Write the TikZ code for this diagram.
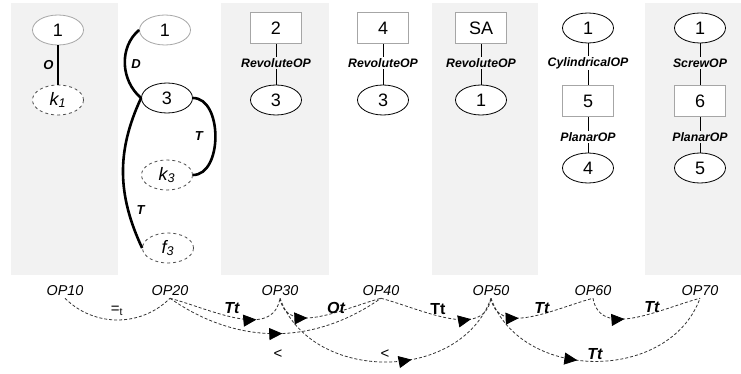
\documentclass[tikz,border=0pt]{standalone}
\usepackage{fontspec}
\setmainfont{Liberation Sans}
\usetikzlibrary{shapes.geometric,arrows.meta,decorations.markings}
\definecolor{panelgray}{HTML}{F2F2F2}
\definecolor{linegray}{HTML}{A6A6A6}
\tikzset{
  oval/.style={ellipse,draw,fill=white,line width=0.8pt,minimum width=51pt,minimum height=30pt,inner sep=0pt,font=\fontsize{18}{18}\selectfont},
  greyoval/.style={oval,draw=linegray},
  virt/.style={oval,draw=black!70,dashed,font=\fontsize{18}{18}\selectfont\itshape},
  part/.style={rectangle,draw=linegray,fill=white,line width=0.8pt,minimum width=51pt,minimum height=31pt,inner sep=0pt,font=\fontsize{18}{18}\selectfont},
  joint/.style={font=\fontsize{12.3}{12}\selectfont\bfseries\itshape,inner sep=1.5pt},
  edgelabel/.style={font=\fontsize{13}{13}\selectfont\bfseries\itshape},
  tie/.style={line width=2.6pt},
  bar/.style={line width=0.9pt},
  oplabel/.style={font=\fontsize{14.3}{14}\selectfont\itshape,inner sep=2pt},
  rel/.style={line width=0.8pt,draw=black!80,dash pattern=on 3pt off 2pt},
  headat/.style={postaction={decorate,decoration={markings,mark=at position #1 with {\arrow[black]{Triangle[length=13pt,width=12pt]}}}}},
  rellabel/.style={font=\fontsize{16}{16}\selectfont\bfseries\itshape},
  cmplabel/.style={font=\fontsize{15}{15}\selectfont},
}
\begin{document}
\begin{tikzpicture}[x=1pt,y=1pt]
  \useasboundingbox (0,0) rectangle (741,-374);
  \fill[panelgray] (11,-3) rectangle (118,-275);
  \fill[panelgray] (221,-3) rectangle (329,-275);
  \fill[panelgray] (432,-3) rectangle (538,-275);
  \fill[panelgray] (645,-3) rectangle (741,-275);

  \node[greyoval] (a1) at (58,-30) {1};
  \node[virt] (ak) at (58,-100) {k\textsubscript{1}};
  \draw[tie] (a1) -- node[edgelabel,left] {O} (ak);

  \node[greyoval] (b1) at (165,-30) {1};
  \node[oval] (b3) at (167,-98) {3};
  \node[virt] (bk) at (167,-175) {k\textsubscript{3}};
  \node[virt] (bf) at (168,-248) {f\textsubscript{3}};
  \draw[tie] (b1.west) to[out=-140,in=140] node[edgelabel,right=2pt] {D} (b3.west);
  \draw[tie] (b3.east) to[out=0,in=0] node[edgelabel,left=8pt] {T} (bk.east);
  \draw[tie] (b3.west) to[out=-115,in=115] node[edgelabel,pos=0.75,right=4pt] {T} (bf.west);

  \node[part] (c2) at (276,-28) {2};
  \node[joint] (cj) at (276,-63) {RevoluteOP};
  \node[oval] (c3) at (276,-100) {3};
  \draw[bar] (c2) -- (cj) -- (c3);

  \node[part] (d4) at (383,-28) {4};
  \node[joint] (dj) at (383,-63) {RevoluteOP};
  \node[oval] (d3) at (383,-100) {3};
  \draw[bar] (d4) -- (dj) -- (d3);

  \node[part] (esa) at (481,-28) {SA};
  \node[joint] (ej) at (481,-63) {RevoluteOP};
  \node[oval] (e1) at (481,-100) {1};
  \draw[bar] (esa) -- (ej) -- (e1);

  \node[oval] (f1) at (588,-28) {1};
  \node[joint] (fj) at (588,-63) {CylindricalOP};
  \node[part] (f5) at (588,-101) {5};
  \node[joint] (fp) at (588,-137) {PlanarOP};
  \node[oval] (f4) at (588,-168) {4};
  \draw[bar] (f1) -- (fj) -- (f5) -- (fp) -- (f4);

  \node[oval] (g1) at (700,-28) {1};
  \node[joint] (gj) at (700,-63) {ScrewOP};
  \node[part] (g6) at (700,-101) {6};
  \node[joint] (gp) at (700,-137) {PlanarOP};
  \node[oval] (g5) at (700,-168) {5};
  \draw[bar] (g1) -- (gj) -- (g6) -- (gp) -- (g5);

  \node[oplabel] (op10) at (65,-291) {OP10};
  \node[oplabel] (op20) at (170,-291) {OP20};
  \node[oplabel] (op30) at (280,-291) {OP30};
  \node[oplabel] (op40) at (381,-291) {OP40};
  \node[oplabel] (op50) at (491,-291) {OP50};
  \node[oplabel] (op60) at (593,-291) {OP60};
  \node[oplabel] (op70) at (700,-291) {OP70};

  \draw[rel] (op10.south) to[out=-45,in=-135] (op20.south);
  \draw[rel,headat=0.72] (op20.south) to[out=-15,in=-100] (op30.south);
  \draw[rel,headat=0.33] (op30.south) to[out=-80,in=-165] (op40.south);
  \draw[rel,headat=0.75] (op40.south) to[out=-15,in=-100] (op50.south);
  \draw[rel,headat=0.33] (op50.south) to[out=-80,in=-165] (op60.south);
  \draw[rel,headat=0.35] (op60.south) to[out=-80,in=-165] (op70.south);
  \draw[rel,headat=0.53] (op20.south) to[out=-35,in=-145] (op40.south);
  \draw[rel,headat=0.6] (op30.south) to[out=-70,in=-110,looseness=1.1] (op50.south);
  \draw[rel,headat=0.43] (op50.south) to[out=-70,in=-110,looseness=1.1] (op70.south);

  \node[cmplabel] (l1) at (117,-311) {=\textsubscript{t}};
  \node[rellabel] (l2) at (232,-308) {Tt};
  \node[rellabel] (l3) at (336,-308) {Ot};
  \node[rellabel,font=\fontsize{16}{16}\selectfont\bfseries] (l4) at (438,-309) {Tt};
  \node[rellabel] (l5) at (542,-308) {Tt};
  \node[rellabel] (l6) at (652,-307) {Tt};
  \node[cmplabel] (l7) at (278,-354) {<};
  \node[cmplabel] (l8) at (385,-354) {<};
  \node[rellabel] (l9) at (595,-354) {Tt};
\end{tikzpicture}
\end{document}
